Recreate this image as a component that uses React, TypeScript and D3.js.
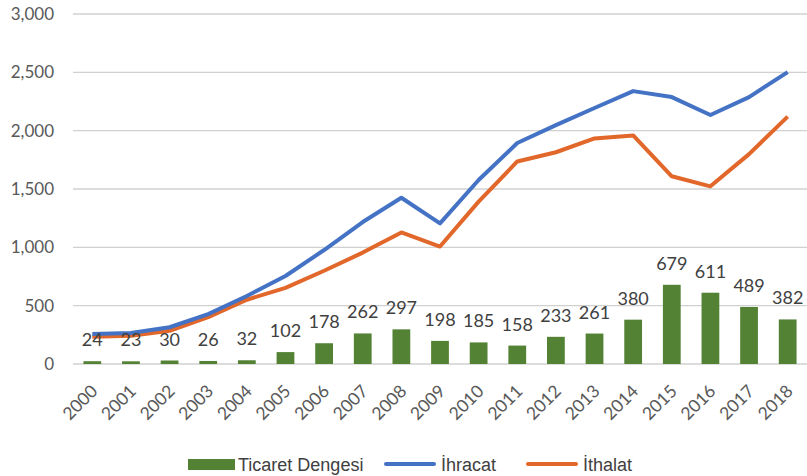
import React from 'react';
import * as d3 from 'd3';

const years = ['2000', '2001', '2002', '2003', '2004', '2005', '2006', '2007', '2008', '2009',
  '2010', '2011', '2012', '2013', '2014', '2015', '2016', '2017', '2018'];
const ihracat = [257, 265, 315, 428, 583, 754, 977, 1217, 1425, 1205,
  1577, 1894, 2048, 2194, 2339, 2288, 2134, 2288, 2502];
const ithalat = [233, 242, 285, 402, 551, 652, 799, 955, 1128, 1007,
  1392, 1736, 1815, 1933, 1959, 1609, 1523, 1799, 2120];
const denge = [24, 23, 30, 26, 32, 102, 178, 262, 297, 198,
  185, 158, 233, 261, 380, 679, 611, 489, 382];
const yTicks = [0, 500, 1000, 1500, 2000, 2500, 3000];

const width = 807;
const height = 476;
const margin = { top: 14, right: 0, bottom: 112, left: 73 };

const GREEN = '#548235';
const BLUE = '#4472C4';
const ORANGE = '#E2672A';
const TEXT = '#595959';

export default function App() {
  const x = d3
    .scaleBand()
    .domain(years)
    .range([margin.left, width - margin.right])
    .paddingInner(0.54)
    .paddingOuter(0.27);
  const y = d3
    .scaleLinear()
    .domain([0, 3000])
    .range([height - margin.bottom, margin.top]);
  const fmt = d3.format(',');

  const cx = (i: number) => (x(years[i]) || 0) + x.bandwidth() / 2;
  const line = d3
    .line<number>()
    .x((_, i) => cx(i))
    .y((d) => y(d));

  return (
    <svg
      width={width}
      height={height}
      style={{ position: 'absolute', left: 0, top: 0, background: '#fff' }}
    >
      {/* grid + y axis */}
      {yTicks.map((t) => (
        <g key={t}>
          <line x1={margin.left} x2={width} y1={y(t)} y2={y(t)} stroke="#d0d0d0" strokeWidth={1.3} />
          <text
            x={54}
            y={y(t)}
            dy="0.35em"
            textAnchor="end"
            fontFamily="Lato, 'Open Sans', sans-serif"
            fontSize={17}
            fill={TEXT}
          >
            {fmt(t)}
          </text>
        </g>
      ))}

      {/* bars */}
      {denge.map((v, i) => (
        <rect
          key={years[i]}
          x={x(years[i])}
          y={y(v)}
          width={x.bandwidth()}
          height={y(0) - y(v)}
          fill={GREEN}
        />
      ))}

      {/* lines */}
      <path d={line(ithalat) || ''} fill="none" stroke={ORANGE} strokeWidth={4} strokeLinejoin="round" />
      <path d={line(ihracat) || ''} fill="none" stroke={BLUE} strokeWidth={4} strokeLinejoin="round" />

      {/* bar labels */}
      {denge.map((v, i) => (
        <text
          key={'l' + years[i]}
          x={cx(i)}
          y={y(v) - 15}
          textAnchor="middle"
          fontFamily="Lato, 'Open Sans', sans-serif"
          fontSize={18}
          fill="#404040"
        >
          {v}
        </text>
      ))}

      {/* x axis labels */}
      {years.map((yr, i) => (
        <text
          key={'x' + yr}
          transform={`translate(${cx(i) + 2},${y(0) + 24}) rotate(-45)`}
          textAnchor="end"
          dy="0.35em"
          fontFamily="Lato, 'Open Sans', sans-serif"
          fontSize={17.5}
          fill={TEXT}
        >
          {yr}
        </text>
      ))}

      {/* legend */}
      <g fontFamily="'Liberation Sans', Arial, sans-serif" fontSize={18} fill="#404040">
        <rect x={188} y={459} width={47} height={11} fill={GREEN} />
        <text x={238} y={471}>Ticaret Dengesi</text>
        <line x1={386} x2={434} y1={464} y2={464} stroke={BLUE} strokeWidth={4} strokeLinecap="round" />
        <text x={441} y={471}>İhracat</text>
        <line x1={528} x2={576} y1={464} y2={464} stroke={ORANGE} strokeWidth={4} strokeLinecap="round" />
        <text x={583} y={471}>İthalat</text>
      </g>
    </svg>
  );
}
